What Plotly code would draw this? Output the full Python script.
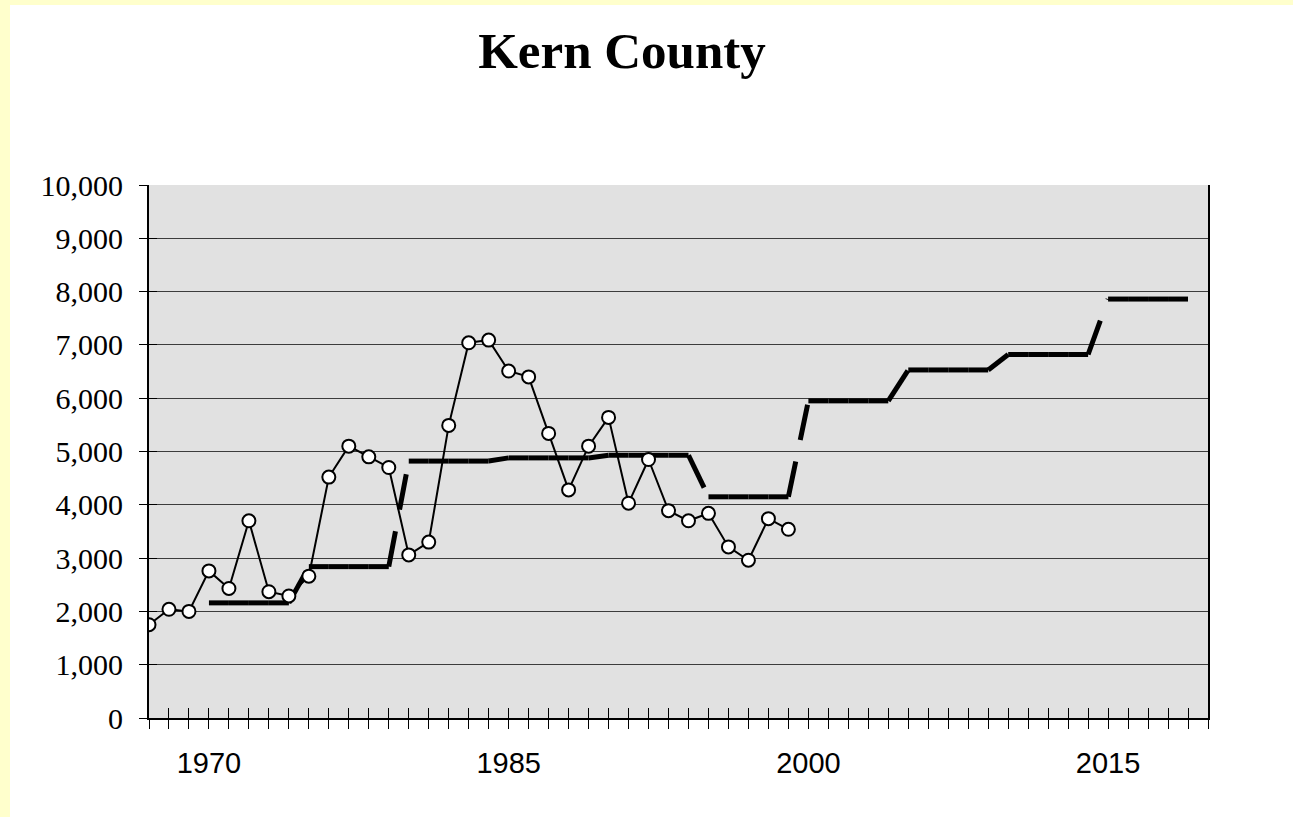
import plotly.graph_objects as go

# ---- data ----
years = list(range(1967, 2021))              # category axis 1967..2020
obs_years = list(range(1967, 2000))          # observed series (circles)
obs_values = [1750, 2040, 2000, 2760, 2430, 3700, 2370, 2290, 2660, 4520,
              5100, 4900, 4700, 3060, 3300, 5490, 7040, 7090, 6510, 6400,
              5340, 4280, 5100, 5640, 4030, 4850, 3890, 3700, 3840, 3210,
              2960, 3740, 3540]
proj_years = list(range(1970, 2020))         # step (dashed) series
proj_values = [2160, 2160, 2160, 2160, 2160,
               2840, 2840, 2840, 2840, 2840,
               4820, 4820, 4820, 4820, 4820,
               4880, 4880, 4880, 4880, 4880,
               4930, 4930, 4930, 4930, 4930,
               4150, 4150, 4150, 4150, 4150,
               5950, 5950, 5950, 5950, 5950,
               6530, 6530, 6530, 6530, 6530,
               6820, 6820, 6820, 6820, 6820,
               7860, 7860, 7860, 7860, 7860]
label_years = [1970, 1985, 2000, 2015]
y_ticks = [0, 1000, 2000, 3000, 4000, 5000, 6000, 7000, 8000, 9000, 10000]

W, H = 1293, 817
L, R, T, B = 149, 85, 185, 99
PW, PH = W - L - R, H - T - B

# dashed series drawn segment by segment (dash pattern restarts per segment)
seg_x, seg_y = [], []
for i in range(len(proj_years) - 1):
    seg_x += [proj_years[i], proj_years[i + 1], None]
    seg_y += [proj_values[i], proj_values[i + 1], None]

fig = go.Figure()
fig.add_trace(go.Scatter(
    x=seg_x, y=seg_y, mode="lines", connectgaps=False,
    line=dict(color="black", width=5, dash="36px,22px"),
    xaxis="x", yaxis="y", showlegend=False, hoverinfo="skip"))
fig.add_trace(go.Scatter(
    x=obs_years, y=obs_values, mode="lines+markers",
    line=dict(color="black", width=2),
    marker=dict(size=13, color="white", line=dict(color="black", width=2)),
    xaxis="x2", yaxis="y2", showlegend=False))

xr = [years[0], years[-1]]
yr = [0, 10000]
ticktext = [str(y) if y in label_years else "" for y in years]

fig.update_layout(
    width=W, height=H,
    margin=dict(l=L, r=R, t=T, b=B),
    paper_bgcolor="white",
    plot_bgcolor="#E1E1E1",
    title=dict(text="<b>Kern County</b>", x=622 / W, xanchor="center",
               xref="container", y=1 - 50 / H, yref="container", yanchor="middle",
               font=dict(family="Liberation Serif", size=51, color="black")),
    xaxis=dict(range=xr, tickvals=years, ticktext=ticktext,
               ticks="outside", ticklen=9, tickwidth=1, tickcolor="black",
               showline=True, linecolor="black", linewidth=2,
               showgrid=False, zeroline=False, ticklabelstandoff=9,
               tickfont=dict(family="Liberation Sans", size=29, color="black")),
    xaxis2=dict(range=xr, overlaying="x", anchor="y2", side="bottom",
                tickvals=years, ticks="inside", ticklen=10, tickwidth=1,
                tickcolor="black", showticklabels=False, showline=False,
                showgrid=False, zeroline=False),
    yaxis=dict(range=yr, tickvals=y_ticks, tickformat=",d",
               ticks="outside", ticklen=8, tickwidth=1, tickcolor="black",
               showline=True, linecolor="black", linewidth=2, mirror=True,
               showgrid=True, gridcolor="#3c3c3c", gridwidth=1,
               zeroline=False, ticklabelstandoff=10,
               tickfont=dict(family="Liberation Serif", size=30, color="black")),
    yaxis2=dict(range=yr, overlaying="y", anchor="x2", side="left",
                tickvals=y_ticks, ticks="inside", ticklen=8, tickwidth=1,
                tickcolor="black", showticklabels=False, showline=False,
                showgrid=False, zeroline=False),
    shapes=[
        dict(type="rect", xref="paper", yref="paper",
             x0=(0 - L) / PW, x1=(10 - L) / PW,
             y0=-(B + 5) / PH, y1=1 + (T + 5) / PH,
             fillcolor="#FFFFCC", line=dict(width=0), layer="below"),
        dict(type="rect", xref="paper", yref="paper",
             x0=(0 - L) / PW, x1=1 + (R + 5) / PW,
             y0=1 + (T - 5) / PH, y1=1 + (T + 5) / PH,
             fillcolor="#FFFFCC", line=dict(width=0), layer="below"),
    ],
)

fig.write_html("out.html",
               config={"displayModeBar": False},
               post_script="document.body.style.margin='0';"
                           "document.body.style.padding='0';")
